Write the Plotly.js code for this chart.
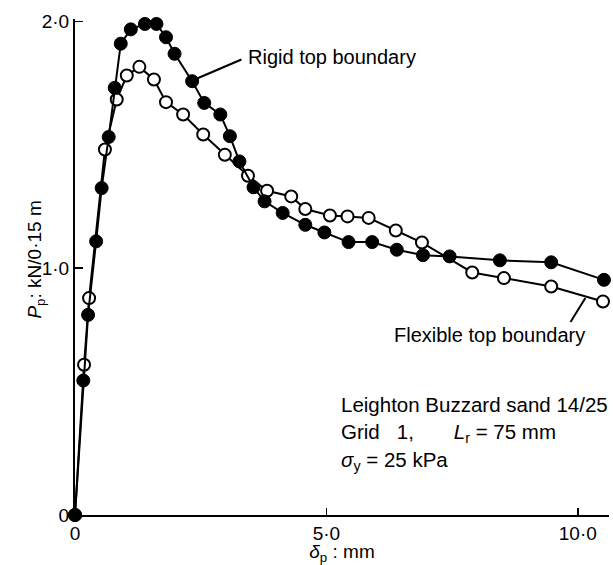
<!DOCTYPE html>
<html>
<head>
<meta charset="utf-8">
<script src="https://cdn.plot.ly/plotly-3.0.1.min.js"></script>
<style>html,body{margin:0;padding:0;background:#fff;}#chart{width:613px;height:565px;}</style>
</head>
<body>
<div id="chart"></div>
<script>
// Rigid top boundary (filled circles)
const rigidX = [0, 0.165, 0.26, 0.42, 0.53, 0.67, 0.79, 0.91, 1.11, 1.39, 1.62, 1.81, 1.98, 2.33, 2.57, 2.89, 3.08, 3.27, 3.55, 3.77, 4.13, 4.58, 4.96, 5.44, 5.91, 6.40, 6.92, 7.45, 8.45, 9.47, 10.52];
const rigidY = [0, 0.545, 0.811, 1.109, 1.325, 1.532, 1.731, 1.91, 1.968, 1.99, 1.99, 1.936, 1.869, 1.758, 1.670, 1.623, 1.535, 1.433, 1.328, 1.271, 1.224, 1.176, 1.145, 1.106, 1.106, 1.075, 1.053, 1.048, 1.032, 1.024, 0.953];
// Flexible top boundary (open circles)
const flexX = [0, 0.18, 0.28, 0.595, 0.83, 1.03, 1.28, 1.57, 1.81, 2.15, 2.55, 2.98, 3.44, 3.82, 4.30, 4.58, 5.07, 5.42, 5.84, 6.38, 6.90, 7.90, 8.53, 9.47, 10.50];
const flexY = [0, 0.609, 0.879, 1.481, 1.684, 1.781, 1.816, 1.765, 1.673, 1.623, 1.542, 1.460, 1.375, 1.314, 1.291, 1.240, 1.214, 1.210, 1.204, 1.153, 1.104, 0.983, 0.960, 0.926, 0.865];

const xTickVals = [0, 5, 10];
const xTickText = ["0", "5·0", "10·0"];
const yTickVals = [0, 1, 2];
const yTickText = ["0", "1·0", "2·0"];

const FONT = "Liberation Sans, Arial, sans-serif";
const INK = "#000";

const traces = [
  {
    x: flexX, y: flexY, type: "scatter", mode: "lines+markers",
    line: {color: INK, width: 2},
    marker: {symbol: "circle", size: 12, color: "#fff", line: {color: INK, width: 2}},
    cliponaxis: false, showlegend: false, hoverinfo: "skip"
  },
  {
    x: rigidX, y: rigidY, type: "scatter", mode: "lines+markers",
    line: {color: INK, width: 2},
    marker: {symbol: "circle", size: 13, color: INK, line: {color: INK, width: 1}},
    cliponaxis: false, showlegend: false, hoverinfo: "skip"
  }
];

const layout = {
  width: 613, height: 565,
  margin: {l: 75, r: 4, t: 19, b: 50},
  paper_bgcolor: "#fff", plot_bgcolor: "#fff",
  font: {family: FONT, size: 19, color: INK},
  showlegend: false,
  xaxis: {
    range: [0, 10.62], showgrid: false, zeroline: false,
    showline: true, linecolor: INK, linewidth: 2,
    ticks: "inside", ticklen: 7, tickwidth: 1.5, tickcolor: INK,
    tickvals: xTickVals, ticktext: xTickText,
    tickfont: {family: FONT, size: 19, color: INK},
    title: {text: "<i>δ</i><sub>p</sub> : mm", font: {family: FONT, size: 19, color: INK}, standoff: 2},
    fixedrange: true
  },
  yaxis: {
    range: [0, 2.01], showgrid: false, zeroline: false,
    showline: true, linecolor: INK, linewidth: 2,
    ticks: "inside", ticklen: 8, tickwidth: 1.5, tickcolor: INK,
    tickvals: yTickVals, ticktext: yTickText,
    tickfont: {family: FONT, size: 19, color: INK},
    fixedrange: true
  },
  shapes: [
    {type: "line", xref: "x", yref: "y", x0: 3.31, y0: 1.846, x1: 2.38, y1: 1.765, line: {color: INK, width: 2}},
    {type: "line", xref: "x", yref: "y", x0: 9.855, y0: 0.782, x1: 10.15, y1: 0.879, line: {color: INK, width: 2}}
  ],
  annotations: [
    {x: -0.073, y: 0.515, xref: "paper", yref: "paper", xanchor: "center", yanchor: "middle", showarrow: false,
     textangle: -90, text: "<i>P</i><sub>p</sub>: kN/0·15 m", font: {family: FONT, size: 19, color: INK}},
    {x: 3.41, y: 1.858, xref: "x", yref: "y", xanchor: "left", yanchor: "middle", showarrow: false,
     text: "Rigid top boundary", font: {family: FONT, size: 20, color: INK}},
    {x: 6.31, y: 0.730, xref: "x", yref: "y", xanchor: "left", yanchor: "middle", showarrow: false,
     text: "Flexible top boundary", font: {family: FONT, size: 20, color: INK}},
    {x: 5.26, y: 0.446, xref: "x", yref: "y", xanchor: "left", yanchor: "middle", showarrow: false,
     text: "Leighton Buzzard sand 14/25", font: {family: FONT, size: 20.5, color: INK}},
    {x: 5.26, y: 0.333, xref: "x", yref: "y", xanchor: "left", yanchor: "middle", showarrow: false,
     text: "Grid\u00a0\u00a0 1,\u00a0\u00a0\u00a0\u00a0\u00a0\u00a0 <i>L</i><sub>r</sub> = 75 mm", font: {family: FONT, size: 20.5, color: INK}},
    {x: 5.26, y: 0.219, xref: "x", yref: "y", xanchor: "left", yanchor: "middle", showarrow: false,
     text: "<i>σ</i><sub>y</sub> = 25 kPa", font: {family: FONT, size: 20.5, color: INK}}
  ]
};

Plotly.newPlot("chart", traces, layout, {staticPlot: true, displayModeBar: false});
</script>
</body>
</html>
